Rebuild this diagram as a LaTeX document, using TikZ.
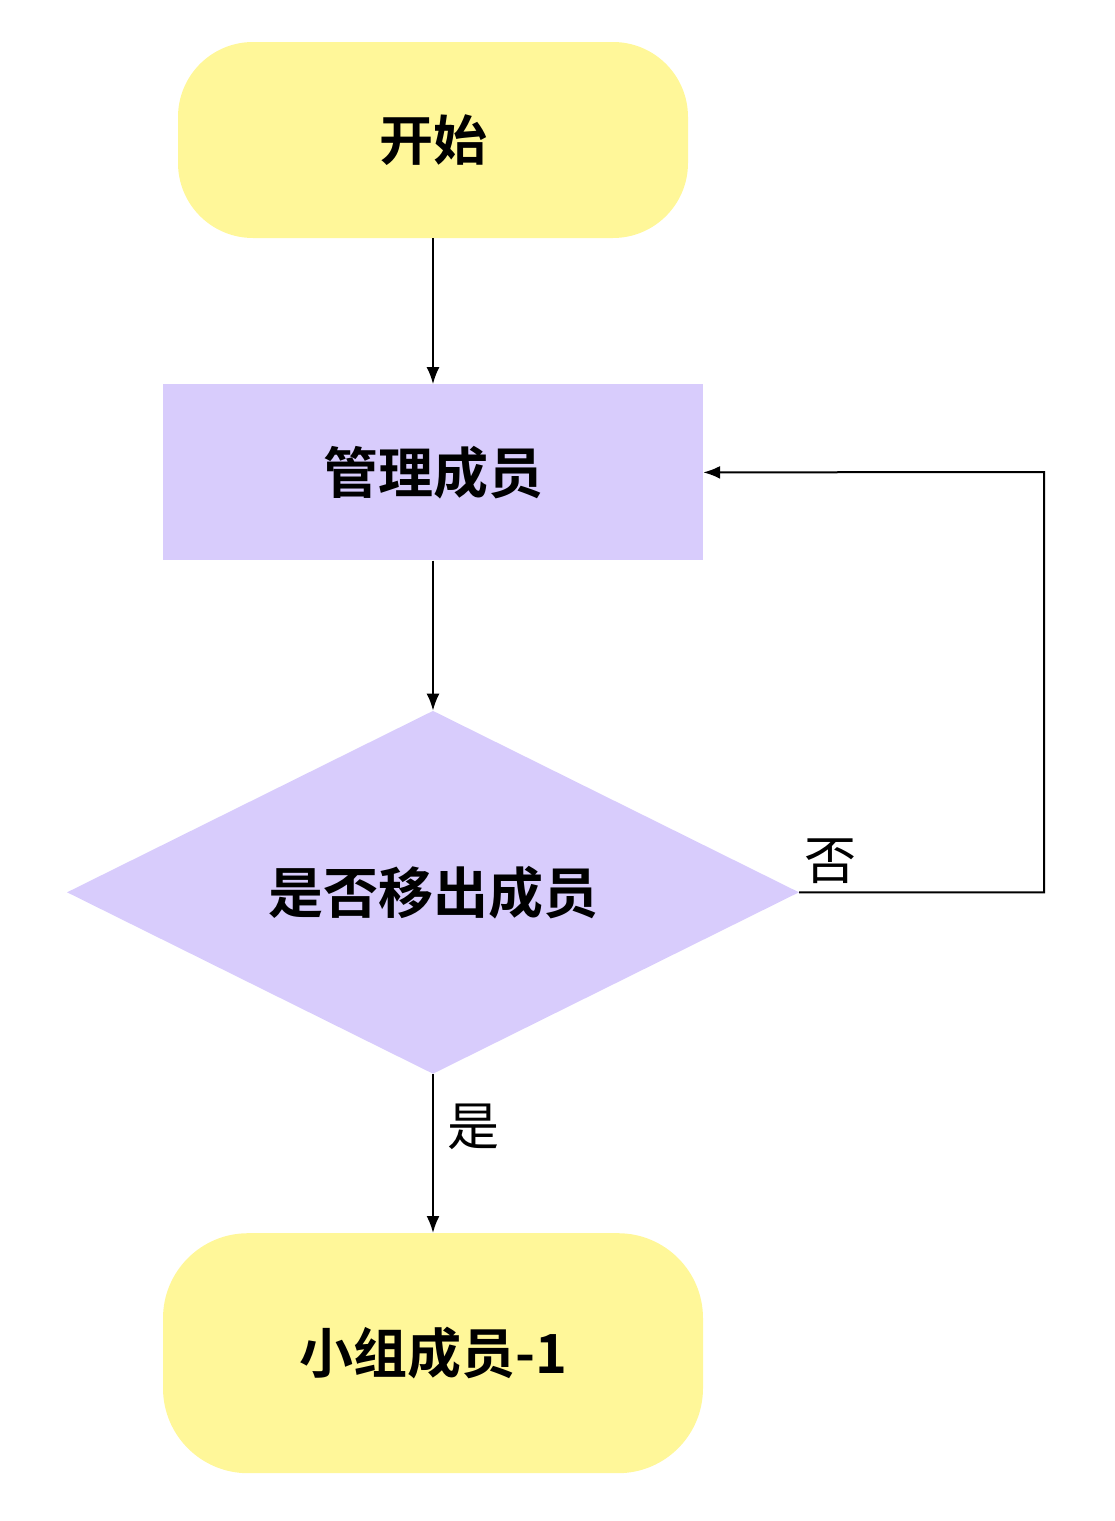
\documentclass[tikz,border=0pt]{standalone}
\usepackage{fontspec}
\setmainfont{Noto Sans CJK SC}[BoldFont={Noto Sans CJK SC Bold}]
\usetikzlibrary{arrows.meta, positioning, shapes.geometric}
\definecolor{termyellow}{HTML}{FFF799}
\definecolor{steplilac}{HTML}{D8CCFC}

\begin{document}
\begin{tikzpicture}[x=1pt, y=1pt,
    terminal/.style={fill=termyellow, rounded corners=75pt, minimum width=510pt,
      minimum height=196pt, font=\fontsize{54}{64}\selectfont\bfseries},
    process/.style={fill=steplilac, minimum width=540pt, minimum height=176pt,
      font=\fontsize{55}{64}\selectfont\bfseries},
    decision/.style={diamond, aspect=2, fill=steplilac, inner sep=0pt,
      minimum width=732pt, minimum height=363pt,
      font=\fontsize{55}{64}\selectfont\bfseries},
    branch/.style={font=\fontsize{52}{60}\selectfont},
    flow/.style={->, line width=2pt},
    >={Latex[length=17pt, width=13pt]}
  ]
  \useasboundingbox (0,0) rectangle (1114,-1521);
  \node[terminal] (start) at (433,-140) {开始};
  \node[process, below=146pt of start] (manage) {管理成员};
  \node[decision, below=150pt of manage] (decide) {是否移出成员};
  \node[terminal, minimum width=540pt, minimum height=240pt, rounded corners=85pt,
    below=159pt of decide] (finish) {小组成员-1};
  \coordinate (loopturn) at (1044,-472);

  \draw[flow] (start) -- (manage);
  \draw[flow] (manage) -- (decide);
  \draw[flow] (decide) -- node[branch, right, pos=0.33, xshift=10pt] {是} (finish);
  \draw[flow] (decide.east) node[branch, anchor=south west, inner sep=2pt, xshift=2pt, yshift=6pt] {否}
    -| (loopturn) -- (manage.east);
\end{tikzpicture}
\end{document}
